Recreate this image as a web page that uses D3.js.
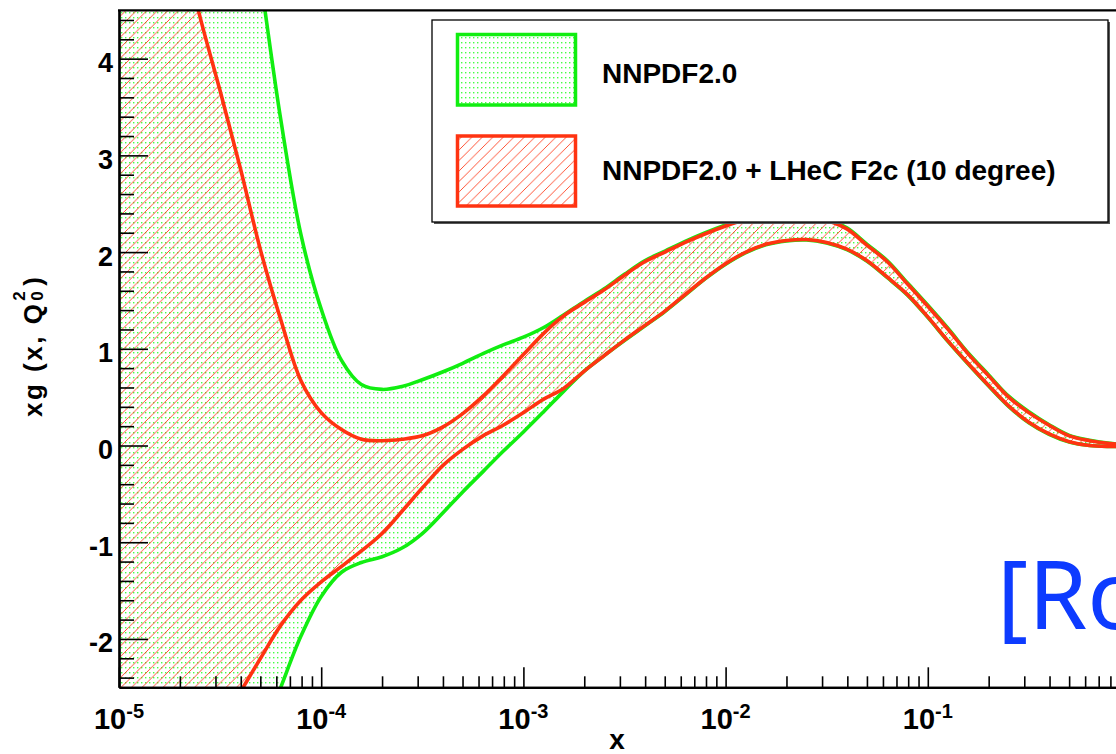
<!DOCTYPE html>
<html>
<head>
<meta charset="utf-8">
<script src="https://cdn.jsdelivr.net/npm/d3@7"></script>
<style>
  html, body { margin: 0; padding: 0; background: #fff; overflow: hidden; }
  svg { display: block; }
  text { font-family: "Liberation Sans", Arial, Helvetica, sans-serif; font-weight: bold; fill: #000; }
</style>
</head>
<body>
<svg id="chart" width="1116" height="754"></svg>
<script>
// x grid (0.1 decade steps from 1e-5 to 1)
const xGrid = [
  1.00e-5, 1.26e-5, 1.58e-5, 2.00e-5, 2.51e-5, 3.16e-5, 3.98e-5, 5.01e-5, 6.31e-5, 7.94e-5,
  1.00e-4, 1.26e-4, 1.58e-4, 2.00e-4, 2.51e-4, 3.16e-4, 3.98e-4, 5.01e-4, 6.31e-4, 7.94e-4,
  1.00e-3, 1.26e-3, 1.58e-3, 2.00e-3, 2.51e-3, 3.16e-3, 3.98e-3, 5.01e-3, 6.31e-3, 7.94e-3,
  1.00e-2, 1.26e-2, 1.58e-2, 2.00e-2, 2.51e-2, 3.16e-2, 3.98e-2, 5.01e-2, 6.31e-2, 7.94e-2,
  1.00e-1, 1.26e-1, 1.58e-1, 2.00e-1, 2.51e-1, 3.16e-1, 3.98e-1, 5.01e-1, 6.31e-1, 7.94e-1,
  1.00
];

// NNPDF2.0 uncertainty band
const nnpdfUpper = [
  12.0, 11.0, 10.0, 9.2, 8.4, 7.6, 6.2, 4.82, 3.37, 2.18,
  1.41, 0.88, 0.63, 0.58, 0.61, 0.68, 0.76, 0.85, 0.95, 1.04,
  1.12, 1.22, 1.35, 1.49, 1.62, 1.77, 1.91, 2.01, 2.11, 2.20,
  2.28, 2.35, 2.40, 2.42, 2.40, 2.34, 2.25, 2.08, 1.91, 1.68,
  1.45, 1.21, 0.96, 0.73, 0.51, 0.35, 0.215, 0.105, 0.055, 0.022,
  0.006
];
const nnpdfLower = [
  -6.7, -6.2, -5.7, -5.2, -4.7, -4.15, -3.6, -3.05, -2.50, -1.97,
  -1.56, -1.31, -1.21, -1.15, -1.06, -0.91, -0.70, -0.48, -0.27, -0.06,
  0.14, 0.35, 0.56, 0.77, 0.93, 1.085, 1.235, 1.385, 1.555, 1.725,
  1.875, 1.995, 2.075, 2.115, 2.125, 2.095, 2.025, 1.905, 1.735, 1.555,
  1.325, 1.075, 0.845, 0.615, 0.405, 0.235, 0.115, 0.035, 0.0, -0.01,
  -0.01
];

// NNPDF2.0 + LHeC F2c band
const lhecUpper = [
  8.0, 7.1, 6.2, 5.3, 4.44, 3.67, 2.87, 2.02, 1.30, 0.67,
  0.34, 0.165, 0.065, 0.05, 0.065, 0.10, 0.19, 0.33, 0.51, 0.72,
  0.94, 1.16, 1.34, 1.48, 1.61, 1.76, 1.90, 2.00, 2.10, 2.19,
  2.27, 2.34, 2.39, 2.41, 2.39, 2.33, 2.24, 2.07, 1.90, 1.67,
  1.44, 1.20, 0.95, 0.72, 0.50, 0.34, 0.21, 0.10, 0.05, 0.02,
  0.005
];
const lhecLower = [
  -4.65, -4.3, -3.95, -3.6, -3.25, -2.9, -2.55, -2.20, -1.86, -1.60,
  -1.41, -1.25, -1.09, -0.91, -0.68, -0.44, -0.21, -0.04, 0.10, 0.21,
  0.34, 0.48, 0.59, 0.77, 0.93, 1.09, 1.24, 1.39, 1.56, 1.73,
  1.88, 2.00, 2.08, 2.12, 2.13, 2.10, 2.03, 1.91, 1.74, 1.56,
  1.33, 1.08, 0.85, 0.62, 0.41, 0.24, 0.12, 0.04, 0.00, -0.01,
  -0.01
];

const xTickDecades = [1e-5, 1e-4, 1e-3, 1e-2, 1e-1];
const xTickExponents = ["-5", "-4", "-3", "-2", "-1"];
const yTickValues = [-2, -1, 0, 1, 2, 3, 4];
const yTickLabels = ["-2", "-1", "0", "1", "2", "3", "4"];
const legendLabels = ["NNPDF2.0", "NNPDF2.0 + LHeC F2c (10 degree)"];
const citeText = "[Ro";

const GREEN = "#11ee11";
const RED = "#ff3311";

const svg = d3.select("#chart");

const plotLeft = 119, plotRight = 1130, plotTop = 10.3, plotBottom = 687.3;
const x = d3.scaleLog().domain([1e-5, 1]).range([plotLeft, plotRight]);
const y = d3.scaleLinear().domain([-2.5, 4.5]).range([plotBottom, plotTop]);

// fill patterns: dotted grid and "/" hatching
const defs = svg.append("defs");
const dots = defs.append("pattern").attr("id", "dots")
  .attr("patternUnits", "userSpaceOnUse").attr("width", 4).attr("height", 5);
dots.append("rect").attr("x", 1).attr("y", 2).attr("width", 1.4).attr("height", 1.4).attr("fill", "#44ff44");

const hatch = defs.append("pattern").attr("id", "hatch")
  .attr("patternUnits", "userSpaceOnUse").attr("width", 10.5).attr("height", 10.5);
[[0, 10.5, 10.5, 0], [-5, 5, 5, -5], [5.5, 15.5, 15.5, 5.5]].forEach(([x1, y1, x2, y2]) =>
  hatch.append("line").attr("x1", x1).attr("y1", y1).attr("x2", x2).attr("y2", y2)
    .attr("stroke", RED).attr("stroke-width", 0.85));

defs.append("clipPath").attr("id", "plotClip")
  .append("rect").attr("x", plotLeft).attr("y", plotTop)
  .attr("width", plotRight - plotLeft).attr("height", plotBottom - plotTop);

const rows = xGrid.map((xv, i) => ({
  x: xv, gu: nnpdfUpper[i], gl: nnpdfLower[i], ru: lhecUpper[i], rl: lhecLower[i]
}));

const plot = svg.append("g").attr("clip-path", "url(#plotClip)");
const curve = d3.curveCatmullRom.alpha(0.5);

const band = (lo, hi) => d3.area().curve(curve).x(d => x(d.x)).y0(d => y(d[lo])).y1(d => y(d[hi]));
const edge = key => d3.line().curve(curve).x(d => x(d.x)).y(d => y(d[key]));

plot.append("path").datum(rows).attr("d", band("gl", "gu")).attr("fill", "url(#dots)");
plot.append("path").datum(rows).attr("d", band("rl", "ru")).attr("fill", "url(#hatch)");

["gu", "gl"].forEach(k => plot.append("path").datum(rows).attr("d", edge(k))
  .attr("fill", "none").attr("stroke", GREEN).attr("stroke-width", 3.6).attr("stroke-linejoin", "round"));
["ru", "rl"].forEach(k => plot.append("path").datum(rows).attr("d", edge(k))
  .attr("fill", "none").attr("stroke", RED).attr("stroke-width", 3.6).attr("stroke-linejoin", "round"));

// x axis: major and minor ticks drawn inward
const xMinor = [];
xTickDecades.forEach(d => { for (let k = 2; k <= 9; k++) xMinor.push(d * k); });

const gxMinor = svg.append("g").attr("transform", `translate(0,${plotBottom})`)
  .call(d3.axisBottom(x).tickValues(xMinor).tickSize(-11).tickSizeOuter(0).tickFormat(""));
const gxMajor = svg.append("g").attr("transform", `translate(0,${plotBottom})`)
  .call(d3.axisBottom(x).tickValues(xTickDecades).tickSize(-20).tickSizeOuter(0).tickFormat(""));

// y axis
const yMinor = d3.range(-24, 45, 2).map(v => v / 10).filter(v => Math.abs(v - Math.round(v)) > 1e-6);
const gyMinor = svg.append("g").attr("transform", `translate(${plotLeft},0)`)
  .call(d3.axisLeft(y).tickValues(yMinor).tickSize(-15).tickSizeOuter(0).tickFormat(""));
const gyMajor = svg.append("g").attr("transform", `translate(${plotLeft},0)`)
  .call(d3.axisLeft(y).tickValues(yTickValues).tickSize(-29).tickSizeOuter(0).tickFormat(""));

[gxMinor, gxMajor, gyMinor, gyMajor].forEach(g => {
  g.selectAll(".tick line").attr("stroke", "#000").attr("stroke-width", 1.6);
  g.select(".domain").attr("stroke", "#000").attr("stroke-width", 2.2);
});

// top frame
svg.append("line").attr("x1", plotLeft - 1).attr("x2", plotRight).attr("y1", plotTop).attr("y2", plotTop)
  .attr("stroke", "#000").attr("stroke-width", 2.2);

// x tick labels 10^n
xTickDecades.forEach((d, i) => {
  const t = svg.append("text").attr("x", x(d)).attr("y", 729)
    .attr("text-anchor", "middle").style("font-size", "29px");
  t.append("tspan").text("10");
  t.append("tspan").attr("dy", -11).style("font-size", "20px").text(xTickExponents[i]);
});

// y tick labels
yTickValues.forEach((v, i) => {
  svg.append("text").attr("x", 113).attr("y", y(v) + 13.5)
    .attr("text-anchor", "end").style("font-size", "27px").text(yTickLabels[i]);
});

// axis titles
svg.append("text").attr("x", 617).attr("y", 749).attr("text-anchor", "middle")
  .style("font-size", "28px").text("x");

const yt = svg.append("g").attr("transform", "translate(42,417) rotate(-90)");
const t1 = yt.append("text").attr("x", 0).attr("y", 0)
  .style("font-size", "26px").style("letter-spacing", "2.5px").text("xg (x, Q");
const w1 = t1.node().getComputedTextLength();
yt.append("text").attr("x", w1 + 1).attr("y", -17).style("font-size", "17px").text("2");
yt.append("text").attr("x", w1 + 1).attr("y", 1).style("font-size", "17px").text("0");
yt.append("text").attr("x", w1 + 16).attr("y", 0).style("font-size", "26px").text(")");

// citation tag
svg.append("text").attr("x", 997).attr("y", 629)
  .style("font-family", "'Noto Sans', 'Open Sans', sans-serif").style("font-weight", "normal")
  .style("font-size", "95px").style("fill", "#0d3bff").text(citeText);

// legend
const lg = svg.append("g");
lg.append("rect").attr("x", 434).attr("y", 22).attr("width", 676).attr("height", 202).attr("fill", "#555");
lg.append("rect").attr("x", 432).attr("y", 20).attr("width", 676).attr("height", 202)
  .attr("fill", "#fff").attr("stroke", "#000").attr("stroke-width", 1.3);

lg.append("rect").attr("x", 457.5).attr("y", 34.5).attr("width", 118).attr("height", 70.5)
  .attr("fill", "url(#dots)").attr("stroke", GREEN).attr("stroke-width", 3.5);
lg.append("rect").attr("x", 457.5).attr("y", 136).attr("width", 118).attr("height", 70)
  .attr("fill", "url(#hatch)").attr("stroke", RED).attr("stroke-width", 3.5);

lg.append("text").attr("x", 602).attr("y", 82.5).style("font-size", "28px").text(legendLabels[0]);
lg.append("text").attr("x", 602).attr("y", 180).style("font-size", "28px").text(legendLabels[1]);
</script>
</body>
</html>
